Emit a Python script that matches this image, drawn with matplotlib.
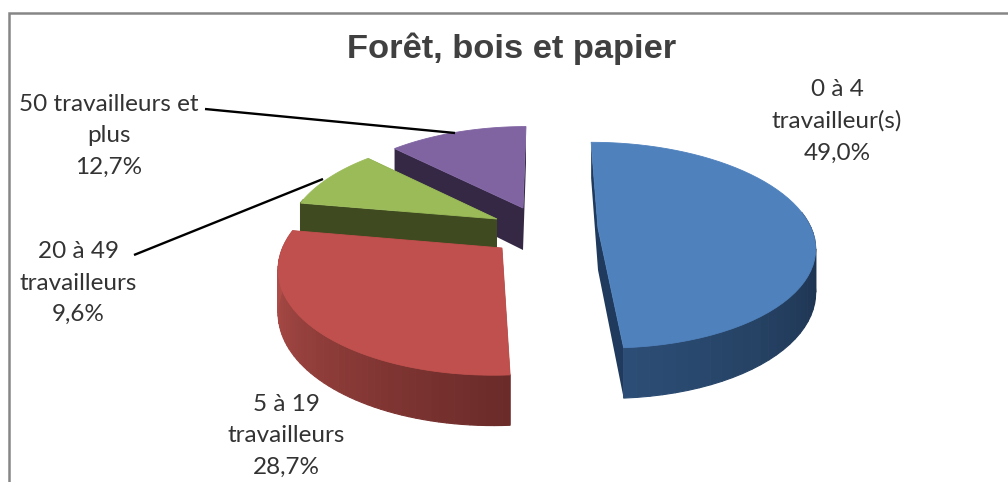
import numpy as np
import matplotlib
matplotlib.use('Agg')
import matplotlib.pyplot as plt
from matplotlib.patches import Polygon
from matplotlib.colors import to_rgb

categories = ['0 à 4\ntravailleur(s)', '5 à 19\ntravailleurs', '20 à 49\ntravailleurs', '50 travailleurs et\nplus']
shares = [49.0, 28.7, 9.6, 12.7]
share_labels = ['49,0%', '28,7%', '9,6%', '12,7%']
title = 'Forêt, bois et papier'

# style of each slice, same order as the data
tops = ['#4f81bd', '#c0504d', '#9bbb59', '#8064a2']
faces = ['#1f3a5c', '#6b2a28', '#3f4a21', '#352845']
rim_start = ['#1b3049', '#6a2b29', '#3f4a21', '#352845']   # colour at the smallest visible angle
rim_end = ['#2d4e77', '#b34e4a', '#3f4a21', '#352845']
apex = [(598, 228), (502, 248), (497, 219), (523, 208)]
scale_x = [1.015, 1.045, 0.98, 0.97]
scale_y = [1.0, 1.06, 0.97, 0.95]
shear = [-8, 7, 5, 3.5]
label_pos = [(837, 121), (286, 436), (78, 283), (109, 136)]

RX, RY, DEPTH, PERSP = 210, 100, 42, 6.0


def project(i, ang, z=0.0):
    # ang in degrees clockwise from the top of the pie
    t = np.radians(ang)
    X, Y = np.sin(t), np.cos(t)
    s = PERSP / (PERSP + Y)
    x = apex[i][0] + (RX * scale_x[i] * X + shear[i] * Y) * s
    y = apex[i][1] - RY * scale_y[i] * Y * s + z * DEPTH * s
    return np.column_stack([x, y])


def apex_pt(i, z=0.0):
    return np.array([[apex[i][0], apex[i][1] + z * DEPTH]])


def mix(c0, c1, f):
    a, b = np.array(to_rgb(c0)), np.array(to_rgb(c1))
    return tuple(a + (b - a) * f)


fig = plt.figure(figsize=(10.08, 4.82), dpi=100)
ax = fig.add_axes([0, 0, 1, 1])
ax.set_xlim(0, 1008)
ax.set_ylim(482, 0)
ax.axis('off')

# chart frame
ax.plot([9, 9, 1008], [482, 13, 13], color='#868686', lw=1.8, solid_joinstyle='miter')

edges = np.concatenate([[0], np.cumsum(shares) / np.sum(shares) * 360])

# back to front: purple, green, blue, red
for order, i in enumerate([3, 2, 0, 1]):
    zo = order + 2
    a0, a1 = edges[i], edges[i + 1]
    angs = np.linspace(a0, a1, 60)
    # cut faces
    for a in (a0, a1):
        quad = np.vstack([apex_pt(i), project(i, a), project(i, a, 1), apex_pt(i, 1)])
        ax.add_patch(Polygon(quad, fc=faces[i], ec='none', zorder=zo))
    # outer rim, thin strips for the shading (back of the arc is hidden anyway)
    for k in range(len(angs) - 1):
        if np.cos(np.radians(angs[k])) > 0.2:
            continue
        if i == 0:
            f = np.clip((angs[k] - 90) / (a1 - 90), 0, 1)
            col = mix(rim_start[i], rim_end[i], f)
        elif i == 1:
            f = np.clip((angs[k] - a0) / (270 - a0), 0, 1)
            col = mix(rim_start[i], rim_end[i], f)
        else:
            col = faces[i]
        strip = np.vstack([project(i, angs[k]), project(i, angs[k + 1]),
                           project(i, angs[k + 1], 1), project(i, angs[k], 1)])
        ax.add_patch(Polygon(strip, fc=col, ec=col, lw=0.8, zorder=zo))
    # top surface
    top = np.vstack([apex_pt(i), project(i, angs)])
    ax.add_patch(Polygon(top, fc=tops[i], ec=tops[i], lw=0.6, zorder=zo))

# leader lines
ax.plot([205, 455], [109, 133], color='black', lw=1.7, zorder=10, solid_capstyle='butt')
ax.plot([134, 323], [255, 179], color='black', lw=1.7, zorder=10, solid_capstyle='butt')

for (x, y), c, v in zip(label_pos, categories, share_labels):
    ax.text(x, y, c + '\n' + v, ha='center', va='center', family='Lato', fontsize=17.5,
            color='#333333', linespacing=1.62, zorder=11)

ax.text(512, 49, title, ha='center', va='center', family='Liberation Sans',
        fontweight='bold', fontsize=24.8, color='#404040', zorder=11)

fig.savefig('out.png', dpi=100)
